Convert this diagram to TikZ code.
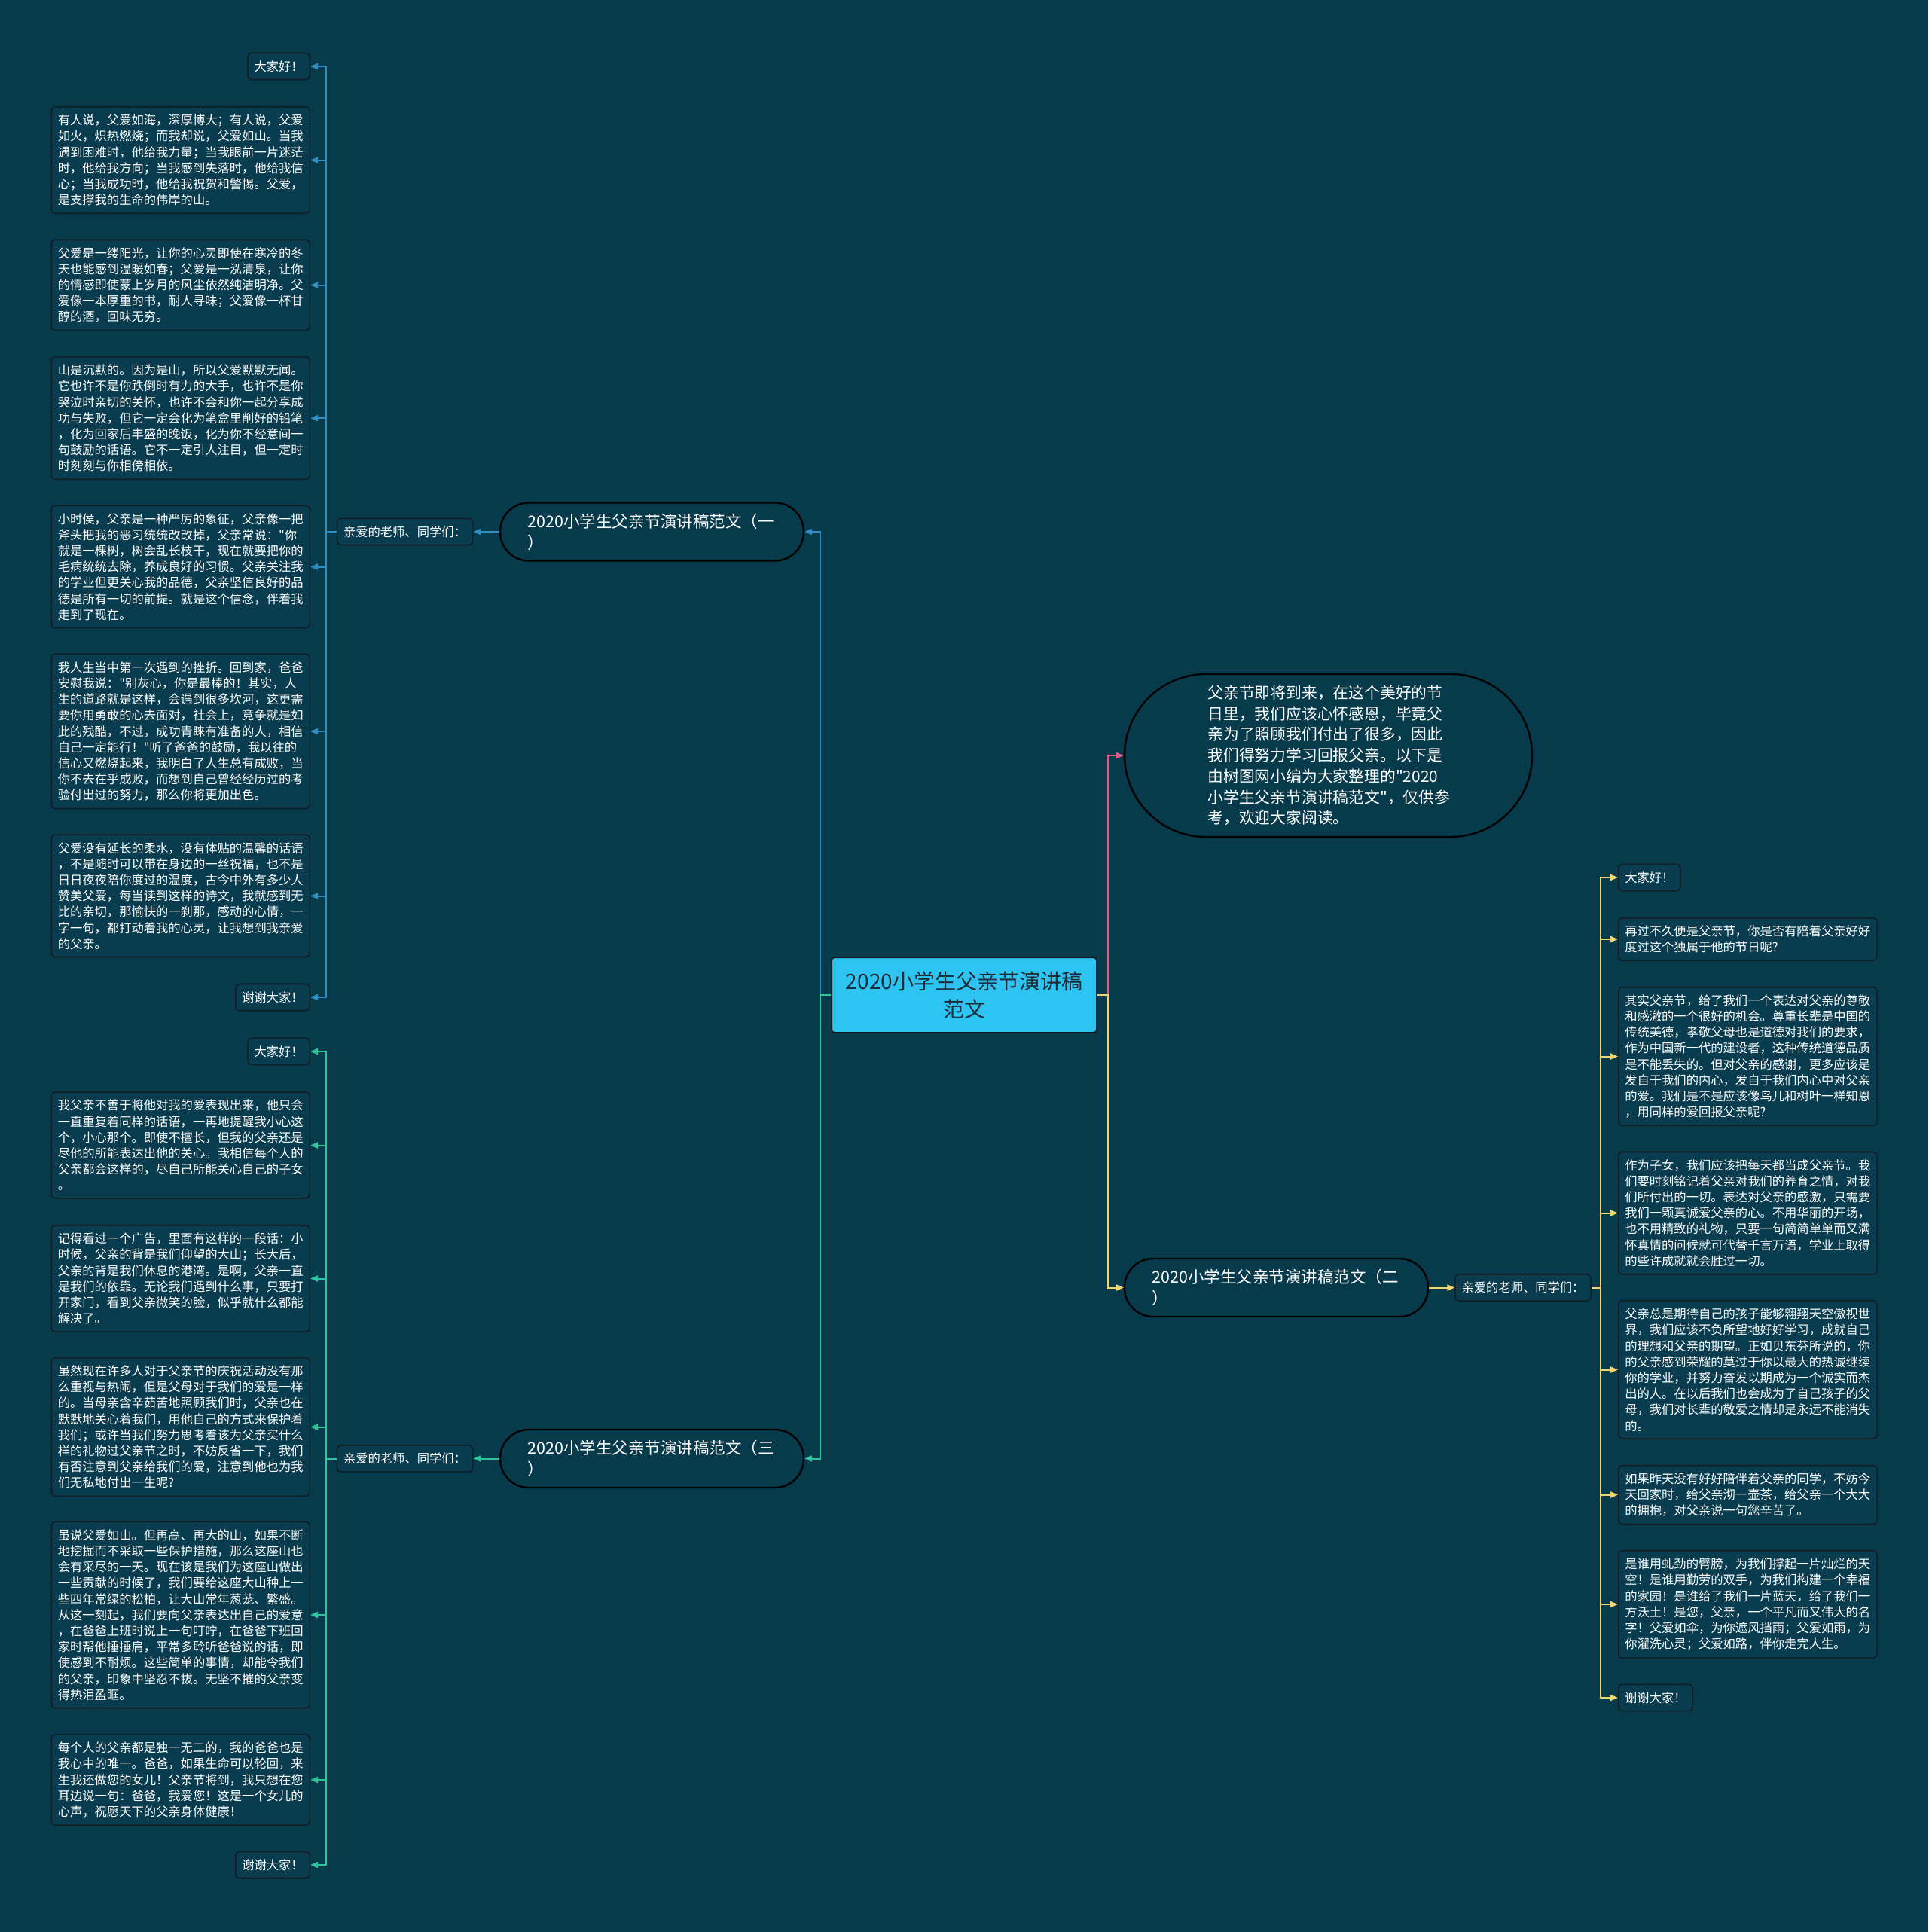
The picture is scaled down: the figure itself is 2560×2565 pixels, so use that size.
\documentclass[tikz,border=0pt]{standalone}
\usepackage{fontspec}
\setmainfont{Noto Sans CJK SC}
\newfontfamily\cjk{Noto Sans CJK SC}
\usetikzlibrary{arrows.meta}
\definecolor{bg}{HTML}{073A4B}
\definecolor{boxfill}{HTML}{083C4E}
\definecolor{boxline}{HTML}{121C22}
\definecolor{cblue}{HTML}{2E8DC2}
\definecolor{cgreen}{HTML}{2CC69A}
\definecolor{cyellow}{HTML}{F2D672}
\definecolor{cpink}{HTML}{E25A84}
\definecolor{rootfill}{HTML}{2EC4F2}
\definecolor{roottext}{HTML}{1D2C38}
\tikzset{
  txt/.style={draw=boxline, fill=boxfill, rounded corners=2.5pt, line width=0.75pt, text=white,
    font=\cjk\fontsize{8.15pt}{10.6pt}\selectfont, align=left, inner xsep=4.25pt, inner ysep=5pt},
  bigtxt/.style={txt, text width=163pt},
  stad/.style={draw=black, line width=1.2pt, fill=bg, rounded corners=19pt, minimum height=38.5pt,
    text width=165pt, inner xsep=18.25pt, align=left, text=white,
    font=\cjk\fontsize{10.75pt}{14pt}\selectfont},
  conn/.style={line width=1pt, -{Triangle[length=5pt,width=4pt]}},
}
\begin{document}
\begin{tikzpicture}[x=0.5pt,y=-0.5pt]
\fill[bg] (0,0) rectangle (2560,2565);
\useasboundingbox (0,0) rectangle (2560,2565);

% root
\node[draw=boxline, fill=rootfill, rounded corners=2pt, line width=1pt, minimum width=176pt,
  minimum height=50pt, align=center, text=roottext, font=\cjk\fontsize{14pt}{18.5pt}\selectfont]
  (root) at (1280,1321) {2020小学生父亲节演讲稿\\范文};

% intro
\node[draw=black, line width=1.2pt, fill=bg, rounded corners=54pt, minimum width=270.5pt,
  minimum height=108pt, text width=160pt, align=left, text=white,
  font=\cjk\fontsize{10.4pt}{13.85pt}\selectfont] (intro) at (1763.5,1003)
  {父亲节即将到来，在这个美好的节\\日里，我们应该心怀感恩，毕竟父\\亲为了照顾我们付出了很多，因此\\我们得努力学习回报父亲。以下是\\由树图网小编为大家整理的"2020\\小学生父亲节演讲稿范文"，仅供参\\考，欢迎大家阅读。};

% branches
\node[stad] (b1) at (865.5,706) {2020小学生父亲节演讲稿范文（一\\）};
\node[stad] (b3) at (865.5,1936.5) {2020小学生父亲节演讲稿范文（三\\）};
\node[stad] (b2) at (1694.5,1709.5) {2020小学生父亲节演讲稿范文（二\\）};

% labels
\node[txt] (lab1) at (537.5,706) {亲爱的老师、同学们：};
\node[txt] (lab3) at (537.5,1936.5) {亲爱的老师、同学们：};
\node[txt] (lab2) at (2022,1709.5) {亲爱的老师、同学们：};

% left top children (blue)
\node[txt, anchor=east] (a1) at (412,88) {大家好！};
\node[bigtxt, anchor=east] (a2) at (412,212.5) {有人说，父爱如海，深厚博大；有人说，父爱\\如火，炽热燃烧；而我却说，父爱如山。当我\\遇到困难时，他给我力量；当我眼前一片迷茫\\时，他给我方向；当我感到失落时，他给我信\\心；当我成功时，他给我祝贺和警惕。父爱，\\是支撑我的生命的伟岸的山。};
\node[bigtxt, anchor=east] (a3) at (412,378.5) {父爱是一缕阳光，让你的心灵即使在寒冷的冬\\天也能感到温暖如春；父爱是一泓清泉，让你\\的情感即使蒙上岁月的风尘依然纯洁明净。父\\爱像一本厚重的书，耐人寻味；父爱像一杯甘\\醇的酒，回味无穷。};
\node[bigtxt, anchor=east] (a4) at (412,555) {山是沉默的。因为是山，所以父爱默默无闻。\\它也许不是你跌倒时有力的大手，也许不是你\\哭泣时亲切的关怀，也许不会和你一起分享成\\功与失败，但它一定会化为笔盒里削好的铅笔\\，化为回家后丰盛的晚饭，化为你不经意间一\\句鼓励的话语。它不一定引人注目，但一定时\\时刻刻与你相傍相依。};
\node[bigtxt, anchor=east] (a5) at (412,752.5) {小时侯，父亲是一种严厉的象征，父亲像一把\\斧头把我的恶习统统改改掉，父亲常说："你\\就是一棵树，树会乱长枝干，现在就要把你的\\毛病统统去除，养成良好的习惯。父亲关注我\\的学业但更关心我的品德，父亲坚信良好的品\\德是所有一切的前提。就是这个信念，伴着我\\走到了现在。};
\node[bigtxt, anchor=east] (a6) at (412,971) {我人生当中第一次遇到的挫折。回到家，爸爸\\安慰我说："别灰心，你是最棒的！其实，人\\生的道路就是这样，会遇到很多坎河，这更需\\要你用勇敢的心去面对，社会上，竞争就是如\\此的残酷，不过，成功青睐有准备的人，相信\\自己一定能行！"听了爸爸的鼓励，我以往的\\信心又燃烧起来，我明白了人生总有成败，当\\你不去在乎成败，而想到自己曾经经历过的考\\验付出过的努力，那么你将更加出色。};
\node[bigtxt, anchor=east] (a7) at (412,1189.5) {父爱没有延长的柔水，没有体贴的温馨的话语\\，不是随时可以带在身边的一丝祝福，也不是\\日日夜夜陪你度过的温度，古今中外有多少人\\赞美父爱，每当读到这样的诗文，我就感到无\\比的亲切，那愉快的一刹那，感动的心情，一\\字一句，都打动着我的心灵，让我想到我亲爱\\的父亲。};
\node[txt, anchor=east] (a8) at (412,1324) {谢谢大家！};

% left bottom children (green)
\node[txt, anchor=east] (g1) at (412,1396) {大家好！};
\node[bigtxt, anchor=east] (g2) at (412,1520.5) {我父亲不善于将他对我的爱表现出来，他只会\\一直重复着同样的话语，一再地提醒我小心这\\个，小心那个。即使不擅长，但我的父亲还是\\尽他的所能表达出他的关心。我相信每个人的\\父亲都会这样的，尽自己所能关心自己的子女\\。};
\node[bigtxt, anchor=east] (g3) at (412,1697.5) {记得看过一个广告，里面有这样的一段话：小\\时候，父亲的背是我们仰望的大山；长大后，\\父亲的背是我们休息的港湾。是啊，父亲一直\\是我们的依靠。无论我们遇到什么事，只要打\\开家门，看到父亲微笑的脸，似乎就什么都能\\解决了。};
\node[bigtxt, anchor=east] (g4) at (412,1894.5) {虽然现在许多人对于父亲节的庆祝活动没有那\\么重视与热闹，但是父母对于我们的爱是一样\\的。当母亲含辛茹苦地照顾我们时，父亲也在\\默默地关心着我们，用他自己的方式来保护着\\我们；或许当我们努力思考着该为父亲买什么\\样的礼物过父亲节之时，不妨反省一下，我们\\有否注意到父亲给我们的爱，注意到他也为我\\们无私地付出一生呢?};
\node[bigtxt, anchor=east] (g5) at (412,2144) {虽说父爱如山。但再高、再大的山，如果不断\\地挖掘而不采取一些保护措施，那么这座山也\\会有采尽的一天。现在该是我们为这座山做出\\一些贡献的时候了，我们要给这座大山种上一\\些四年常绿的松柏，让大山常年葱茏、繁盛。\\从这一刻起，我们要向父亲表达出自己的爱意\\，在爸爸上班时说上一句叮咛，在爸爸下班回\\家时帮他捶捶肩，平常多聆听爸爸说的话，即\\使感到不耐烦。这些简单的事情，却能令我们\\的父亲，印象中坚忍不拔。无坚不摧的父亲变\\得热泪盈眶。};
\node[bigtxt, anchor=east] (g6) at (412,2363) {每个人的父亲都是独一无二的，我的爸爸也是\\我心中的唯一。爸爸，如果生命可以轮回，来\\生我还做您的女儿！父亲节将到，我只想在您\\耳边说一句：爸爸，我爱您！这是一个女儿的\\心声，祝愿天下的父亲身体健康！};
\node[txt, anchor=east] (g7) at (412,2476) {谢谢大家！};

% right children (yellow)
\node[txt, anchor=west] (r1) at (2148,1165) {大家好！};
\node[bigtxt, anchor=west] (r2) at (2148,1247) {再过不久便是父亲节，你是否有陪着父亲好好\\度过这个独属于他的节日呢?};
\node[bigtxt, anchor=west] (r3) at (2148,1402.5) {其实父亲节，给了我们一个表达对父亲的尊敬\\和感激的一个很好的机会。尊重长辈是中国的\\传统美德，孝敬父母也是道德对我们的要求，\\作为中国新一代的建设者，这种传统道德品质\\是不能丢失的。但对父亲的感谢，更多应该是\\发自于我们的内心，发自于我们内心中对父亲\\的爱。我们是不是应该像鸟儿和树叶一样知恩\\，用同样的爱回报父亲呢?};
\node[bigtxt, anchor=west] (r4) at (2148,1610.5) {作为子女，我们应该把每天都当成父亲节。我\\们要时刻铭记着父亲对我们的养育之情，对我\\们所付出的一切。表达对父亲的感激，只需要\\我们一颗真诚爱父亲的心。不用华丽的开场，\\也不用精致的礼物，只要一句简简单单而又满\\怀真情的问候就可代替千言万语，学业上取得\\的些许成就就会胜过一切。};
\node[bigtxt, anchor=west] (r5) at (2148,1818.5) {父亲总是期待自己的孩子能够翱翔天空傲视世\\界，我们应该不负所望地好好学习，成就自己\\的理想和父亲的期望。正如贝东芬所说的，你\\的父亲感到荣耀的莫过于你以最大的热诚继续\\你的学业，并努力奋发以期成为一个诚实而杰\\出的人。在以后我们也会成为了自己孩子的父\\母，我们对长辈的敬爱之情却是永远不能消失\\的。};
\node[bigtxt, anchor=west] (r6) at (2148,1984.5) {如果昨天没有好好陪伴着父亲的同学，不妨今\\天回家时，给父亲沏一壶茶，给父亲一个大大\\的拥抱，对父亲说一句您辛苦了。};
\node[bigtxt, anchor=west] (r7) at (2148,2130) {是谁用虬劲的臂膀，为我们撑起一片灿烂的天\\空！是谁用勤劳的双手，为我们构建一个幸福\\的家园！是谁给了我们一片蓝天，给了我们一\\方沃土！是您，父亲，一个平凡而又伟大的名\\字！父爱如伞，为你遮风挡雨；父爱如雨，为\\你濯洗心灵；父爱如路，伴你走完人生。};
\node[txt, anchor=west] (r8) at (2148,2254) {谢谢大家！};

% connectors from root
\draw[conn, cblue] (root.west) -- ++(-14,0) |- (b1.east);
\draw[conn, cgreen] (root.west) -- ++(-14,0) |- (b3.east);
\draw[conn, cpink] (root.east) -- ++(14,0) |- (intro.west);
\draw[conn, cyellow] (root.east) -- ++(14,0) |- (b2.west);

% branch to labels
\draw[conn, cblue] (b1.west) -- (lab1.east);
\draw[conn, cgreen] (b3.west) -- (lab3.east);
\draw[conn, cyellow] (b2.east) -- (lab2.west);

% label to children
\foreach \c in {a1,a2,a3,a4,a5,a6,a7,a8}
  \draw[conn, cblue] (lab1.west) -- ++(-14,0) |- (\c.east);
\foreach \c in {g1,g2,g3,g4,g5,g6,g7}
  \draw[conn, cgreen] (lab3.west) -- ++(-14,0) |- (\c.east);
\foreach \c in {r1,r2,r3,r4,r5,r6,r7,r8}
  \draw[conn, cyellow] (lab2.east) -- ++(12,0) |- (\c.west);
\end{tikzpicture}
\end{document}
